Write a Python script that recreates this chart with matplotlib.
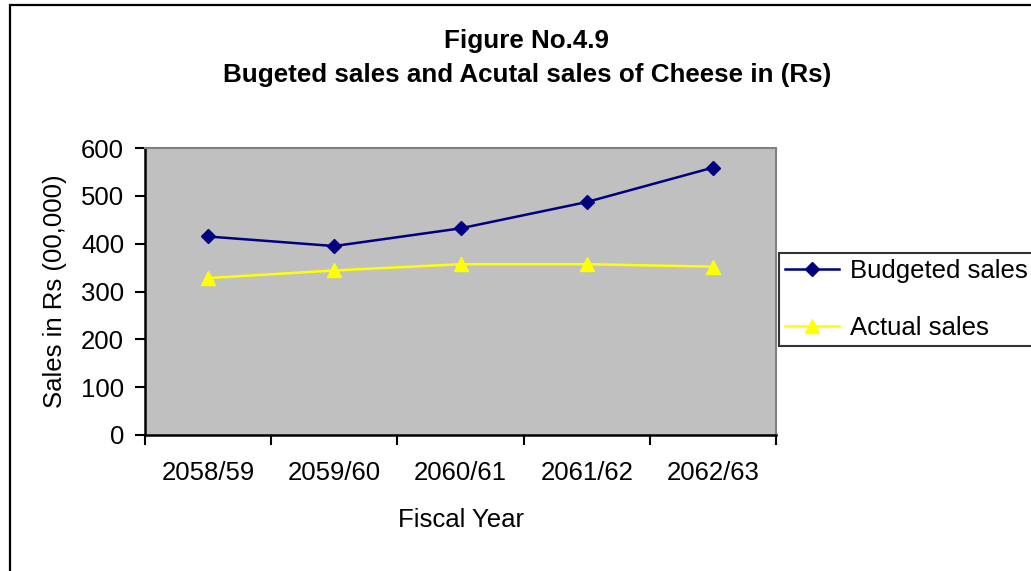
import matplotlib
matplotlib.use("Agg")
import matplotlib.pyplot as plt
from matplotlib.patches import Rectangle

# donnees du graphique
years = ["2058/59", "2059/60", "2060/61", "2061/62", "2062/63"]
budgeted = [415, 395, 432, 487, 559]
actual = [328, 344, 357, 357, 352]

plt.rcParams['font.family'] = ['Liberation Sans', 'DejaVu Sans']

W, H = 1031, 571
fs = 18.5
fig = plt.figure(figsize=(W / 100, H / 100), dpi=100)
fig.patch.set_facecolor('white')

# cadre exterieur (coupe a droite et en bas)
fig.patches.append(Rectangle((10 / W, -0.1), 1.2, 1.1 - 5 / H, transform=fig.transFigure,
                             fill=False, edgecolor='black', linewidth=1.6, zorder=0))

ax = fig.add_axes([145 / W, 1 - 435 / H, (776 - 145) / W, (435 - 148) / H])
ax.set_facecolor('#C0C0C0')

x = [i + 0.5 for i in range(len(years))]
ax.plot(x, budgeted, color='#000080', linewidth=1.8, marker='D', markersize=7.5,
        label='Budgeted sales')
ax.plot(x, actual, color='#FFFF00', linewidth=1.8, marker='^', markersize=10,
        label='Actual sales')

ax.set_xlim(0, len(years))
ax.set_ylim(0, 600)
ax.set_yticks(range(0, 601, 100))

# ticks aux limites des categories, etiquettes au centre
ax.set_xticks(range(len(years) + 1))
ax.set_xticklabels([])
ax.set_xticks(x, minor=True)
ax.set_xticklabels(years, minor=True)
ax.tick_params(axis='x', which='major', direction='out', length=7, width=1.5, color='black')
ax.tick_params(axis='x', which='minor', length=0, pad=19, labelsize=fs)
ax.tick_params(axis='y', direction='out', length=7, width=1.5, pad=8, labelsize=fs)

for side in ['top', 'right']:
    ax.spines[side].set_color('#808080')
    ax.spines[side].set_linewidth(1.5)
for side in ['left', 'bottom']:
    ax.spines[side].set_color('black')
    ax.spines[side].set_linewidth(1.8)

ax.set_xlabel('Fiscal Year', fontsize=fs, labelpad=16)
ax.set_ylabel('Sales in Rs (00,000)', fontsize=fs, labelpad=10)

fig.text(527 / W, 1 - 41 / H, 'Figure No.4.9', ha='center', va='center',
         fontsize=18.7, fontweight='bold')
fig.text(527 / W, 1 - 75 / H, 'Bugeted sales and Acutal sales of Cheese in (Rs)',
         ha='center', va='center', fontsize=18.7, fontweight='bold')

leg = fig.legend(loc='upper left', bbox_to_anchor=(779 / W, 1 - 253 / H),
                 fontsize=fs, frameon=True, fancybox=False, edgecolor='black',
                 borderpad=0.25, labelspacing=1.25, handlelength=2.1,
                 handletextpad=0.4, borderaxespad=0)
leg.get_frame().set_linewidth(1.5)

fig.savefig('out.png', dpi=100)
